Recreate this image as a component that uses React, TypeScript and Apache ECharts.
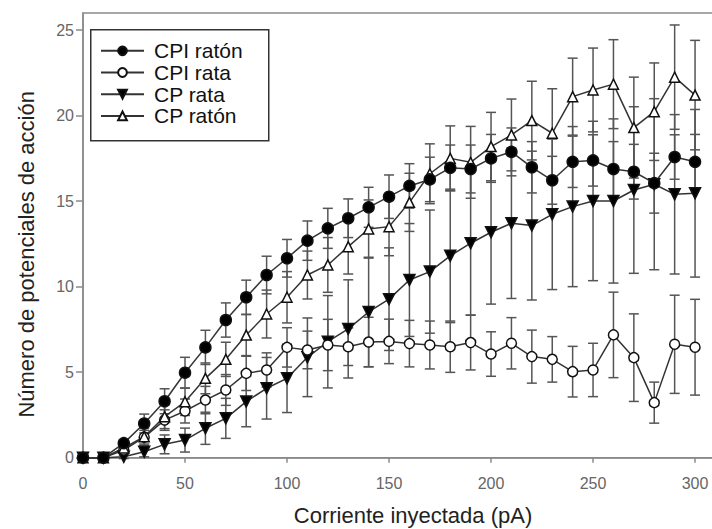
import React, { useEffect, useRef } from "react";
import * as echarts from "echarts";

const currents = [0, 10, 20, 30, 40, 50, 60, 70, 80, 90, 100, 110, 120, 130, 140, 150, 160, 170, 180, 190, 200, 210, 220, 230, 240, 250, 260, 270, 280, 290, 300];

const cpiRaton = [0, 0, 0.85, 2.0, 3.3, 4.97, 6.45, 8.05, 9.38, 10.68, 11.66, 12.69, 13.41, 14.0, 14.64, 15.26, 15.89, 16.27, 16.95, 16.88, 17.5, 17.88, 16.98, 16.22, 17.3, 17.38, 16.88, 16.72, 16.05, 17.58, 17.3];
const cpiRatonErr = [0, 0, 0.2, 0.55, 0.73, 0.9, 1.0, 1.0, 1.0, 1.1, 1.1, 1.15, 1.17, 1.13, 1.17, 1.27, 1.3, 1.3, 1.33, 1.4, 1.4, 1.4, 1.5, 1.4, 1.5, 1.5, 1.6, 1.6, 1.75, 1.3, 1.6];

const cpiRata = [0, 0, 0.45, 1.2, 2.2, 2.73, 3.37, 3.96, 4.93, 5.13, 6.45, 6.3, 6.59, 6.49, 6.76, 6.8, 6.67, 6.59, 6.49, 6.73, 6.06, 6.69, 5.91, 5.75, 5.03, 5.13, 7.18, 5.85, 3.22, 6.63, 6.46];
const cpiRataErr = [0, 0, 0.2, 0.4, 0.6, 0.7, 0.8, 0.9, 1.0, 1.0, 1.15, 1.1, 1.5, 1.1, 1.45, 1.3, 1.36, 1.4, 1.5, 1.6, 1.3, 1.5, 1.55, 1.33, 1.48, 1.56, 2.5, 2.56, 1.2, 2.87, 2.8];

const cpRata = [0, 0, 0.05, 0.35, 0.78, 1.03, 1.72, 2.3, 3.28, 4.06, 4.64, 5.87, 6.78, 7.53, 8.52, 9.27, 10.39, 10.88, 11.8, 12.54, 13.18, 13.71, 13.57, 14.23, 14.68, 15.01, 15.01, 15.65, 15.99, 15.4, 15.46];
const cpRataErr = [0, 0, 0.1, 0.3, 0.55, 0.7, 0.94, 1.17, 1.47, 1.8, 2.0, 2.3, 2.7, 2.87, 3.2, 3.0, 3.3, 3.6, 3.9, 4.2, 4.2, 4.4, 4.35, 4.4, 4.68, 4.66, 4.8, 4.87, 5.0, 4.66, 4.9];

const cpRaton = [0, 0, 0.57, 1.23, 2.4, 3.27, 4.64, 5.75, 7.17, 8.4, 9.38, 10.68, 11.27, 12.34, 13.37, 13.51, 14.93, 16.6, 17.5, 17.27, 18.19, 18.87, 19.71, 18.97, 21.11, 21.5, 21.84, 19.3, 20.23, 22.25, 21.2];
const cpRatonErr = [0, 0, 0.3, 0.5, 0.7, 0.8, 0.9, 1.0, 1.2, 1.4, 1.5, 1.4, 1.6, 1.6, 1.7, 1.7, 1.7, 1.75, 1.9, 2.1, 2.0, 2.1, 2.3, 2.6, 2.25, 2.45, 2.6, 2.95, 2.85, 3.05, 3.2];

const xTicks = [0, 50, 100, 150, 200, 250, 300];
const yTicks = [0, 5, 10, 15, 20, 25];

const FONT = "'Liberation Sans', Arial, sans-serif";
const LINE = "#333";
const ERR = "#555";
const FRAME = "#8a8a8a";

function errSeries(name: string, vals: number[], errs: number[]) {
  return {
    type: "custom",
    name,
    z: 1,
    clip: false,
    silent: true,
    encode: { x: 0, y: 1 },
    data: currents.map((c, i) => [c, vals[i], errs[i]]),
    renderItem: (_params: any, api: any) => {
      const x = api.value(0);
      const y = api.value(1);
      const e = api.value(2);
      if (!e) return null;
      const top = api.coord([x, y + e]);
      const bot = api.coord([x, y - e]);
      const hw = 5;
      const st = { stroke: ERR, lineWidth: 1.5 };
      return {
        type: "group",
        children: [
          { type: "line", shape: { x1: top[0], y1: top[1], x2: bot[0], y2: bot[1] }, style: st },
          { type: "line", shape: { x1: top[0] - hw, y1: top[1], x2: top[0] + hw, y2: top[1] }, style: st },
          { type: "line", shape: { x1: bot[0] - hw, y1: bot[1], x2: bot[0] + hw, y2: bot[1] }, style: st },
        ],
      };
    },
  };
}

function lineSeries(name: string, vals: number[], symbol: string, fill: string, rotate: number, size: number) {
  return {
    type: "line",
    name,
    z: 3,
    clip: false,
    data: currents.map((c, i) => [c, vals[i]]),
    symbol,
    symbolSize: size,
    symbolRotate: rotate,
    showAllSymbol: true,
    lineStyle: { color: LINE, width: 1.5 },
    itemStyle: { color: fill, borderColor: "#111", borderWidth: 1.5 },
  };
}

export default function App() {
  const ref = useRef<HTMLDivElement>(null);
  useEffect(() => {
    document.body.style.margin = "0";
    if (!ref.current) return;
    const chart = echarts.init(ref.current, undefined, { renderer: "svg" });
    chart.setOption({
      animation: false,
      backgroundColor: "#fff",
      grid: {
        left: 83,
        top: 13,
        width: 660,
        height: 444.7,
        show: true,
        containLabel: false,
        outerBoundsMode: "none",
        borderColor: FRAME,
        borderWidth: 1.5,
        backgroundColor: "transparent",
      },
      graphic: [
        {
          type: "rect",
          left: 90,
          top: 29,
          shape: { x: 0, y: 0, width: 178, height: 111 },
          style: { fill: "#fff", stroke: "#333", lineWidth: 1.5 },
          z: 5,
        },
      ],
      legend: {
        left: 100,
        top: 40,
        orient: "vertical",
        z: 10,
        data: ["CPI ratón", "CPI rata", "CP rata", "CP ratón"],
        padding: 0,
        itemGap: 0,
        itemWidth: 43,
        itemHeight: 11,
        textStyle: { fontSize: 21, fontFamily: FONT, color: "#111", lineHeight: 21.7, padding: [0, 0, 0, 5] },
      },
      xAxis: {
        type: "value",
        min: 0,
        max: 323.5,
        name: "Corriente inyectada (pA)",
        nameLocation: "middle",
        nameGap: 47,
        nameTextStyle: { fontSize: 22, fontFamily: FONT, color: "#222" },
        axisLine: { show: true, onZero: false, lineStyle: { color: FRAME, width: 1.5 } },
        axisTick: { show: true, length: 5, customValues: xTicks, lineStyle: { color: FRAME, width: 1.5 } },
        axisLabel: { customValues: xTicks, fontSize: 16, fontFamily: FONT, color: "#666", margin: 18 },
        splitLine: { show: false },
      },
      yAxis: {
        type: "value",
        min: 0,
        max: 26,
        name: "Número de potenciales de acción",
        nameLocation: "middle",
        nameGap: 46,
        nameTextStyle: { fontSize: 22, fontFamily: FONT, color: "#222", padding: [0, 38, 0, 0] },
        axisLine: { show: true, onZero: false, lineStyle: { color: FRAME, width: 1.5 } },
        axisTick: { show: true, length: 7, customValues: yTicks, lineStyle: { color: FRAME, width: 1.5 } },
        axisLabel: { customValues: yTicks, fontSize: 16, fontFamily: FONT, color: "#666", margin: 9 },
        splitLine: { show: false },
      },
      series: [
        errSeries("errCPIraton", cpiRaton, cpiRatonErr),
        errSeries("errCPIrata", cpiRata, cpiRataErr),
        errSeries("errCPrata", cpRata, cpRataErr),
        errSeries("errCPraton", cpRaton, cpRatonErr),
        lineSeries("CP rata", cpRata, "triangle", "#000", 180, 11),
        lineSeries("CPI rata", cpiRata, "circle", "#fff", 0, 10),
        lineSeries("CP ratón", cpRaton, "triangle", "#fff", 0, 10),
        lineSeries("CPI ratón", cpiRaton, "circle", "#000", 0, 11),
      ],
    });
    return () => chart.dispose();
  }, []);
  return <div ref={ref} style={{ width: 712, height: 529, overflow: "hidden" }} />;
}
